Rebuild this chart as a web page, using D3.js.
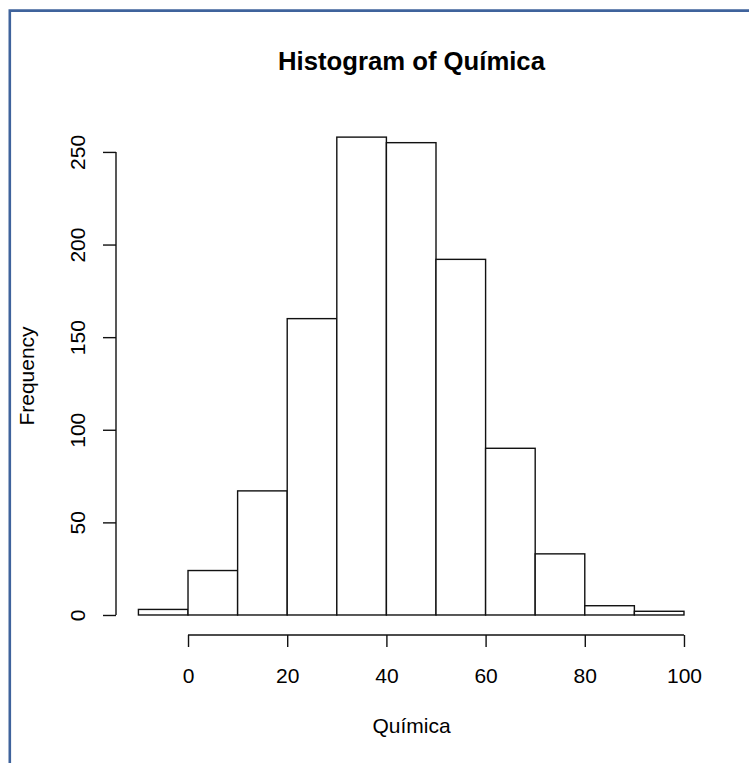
<!DOCTYPE html>
<html>
<head>
<meta charset="utf-8">
<script src="https://cdn.jsdelivr.net/npm/d3@7"></script>
<style>
  html, body { margin: 0; padding: 0; background: #fff; }
  svg { display: block; font-family: "Liberation Sans", Arial, sans-serif; }
</style>
</head>
<body>
<svg id="chart"></svg>
<script>
// Histogram bins (break points) and counts
const breaks = [-10, 0, 10, 20, 30, 40, 50, 60, 70, 80, 90, 100];
const counts = [3, 24, 67, 160, 258, 255, 192, 90, 33, 5, 2];
const xTicks = [0, 20, 40, 60, 80, 100];
const yTicks = [0, 50, 100, 150, 200, 250];

const width = 749;
const height = 763;

const bins = counts.map((c, i) => ({ x0: breaks[i], x1: breaks[i + 1], n: c }));

// R pads the data range by 4% on each side
const x = d3.scaleLinear([-14.4, 104.4], [116.6, 705.8]);
const y = d3.scaleLinear([-10.32, 268.32], [634.1, 118]);

const svg = d3.select("#chart")
    .attr("width", width)
    .attr("height", height)
    .attr("viewBox", [0, 0, width, height]);

// frame around the picture (top and left edges only visible)
svg.append("path")
    .attr("d", `M9.8,${height}V10.6H${width}`)
    .attr("fill", "none")
    .attr("stroke", "#3f639c")
    .attr("stroke-width", 2.6);

// bars
svg.append("g")
    .selectAll("rect")
    .data(bins)
    .join("rect")
    .attr("x", d => x(d.x0))
    .attr("y", d => y(d.n))
    .attr("width", d => x(d.x1) - x(d.x0))
    .attr("height", d => y(0) - y(d.n))
    .attr("fill", "white")
    .attr("stroke", "#111")
    .attr("stroke-width", 1.4);

// x axis
const xAxisY = 635;
svg.append("g")
    .attr("transform", `translate(0,${xAxisY})`)
    .call(d3.axisBottom(x).tickValues(xTicks).tickSize(12).tickSizeOuter(0))
    .call(g => g.select(".domain").remove())
    .call(g => g.append("line")
        .attr("x1", x(0)).attr("x2", x(100))
        .attr("stroke", "#111").attr("stroke-width", 1.4))
    .call(g => g.selectAll(".tick line").attr("stroke", "#111").attr("stroke-width", 1.4))
    .call(g => g.selectAll(".tick text")
        .attr("y", 48).attr("dy", 0)
        .attr("fill", "#000")
        .attr("font-size", 21)
        .attr("font-family", "Liberation Sans, Arial, sans-serif"));

// y axis
const yAxisX = 116;
svg.append("g")
    .attr("transform", `translate(${yAxisX},0)`)
    .call(d3.axisLeft(y).tickValues(yTicks).tickSize(13).tickSizeOuter(0))
    .call(g => g.select(".domain").remove())
    .call(g => g.append("line")
        .attr("y1", y(0)).attr("y2", y(250))
        .attr("stroke", "#111").attr("stroke-width", 1.4))
    .call(g => g.selectAll(".tick line").attr("stroke", "#111").attr("stroke-width", 1.4))
    .call(g => g.selectAll(".tick text")
        .attr("transform", "rotate(-90)")
        .attr("x", 0).attr("y", -31).attr("dy", 0)
        .attr("text-anchor", "middle")
        .attr("fill", "#000")
        .attr("font-size", 21)
        .attr("font-family", "Liberation Sans, Arial, sans-serif"));

// title and axis labels
svg.append("text")
    .attr("x", 411.5)
    .attr("y", 70)
    .attr("text-anchor", "middle")
    .attr("font-size", 25.7)
    .attr("font-weight", "bold")
    .text("Histogram of Química");

svg.append("text")
    .attr("x", 411.5)
    .attr("y", 733)
    .attr("text-anchor", "middle")
    .attr("font-size", 21)
    .text("Química");

svg.append("text")
    .attr("transform", `translate(34,376) rotate(-90)`)
    .attr("text-anchor", "middle")
    .attr("font-size", 21)
    .text("Frequency");
</script>
</body>
</html>
